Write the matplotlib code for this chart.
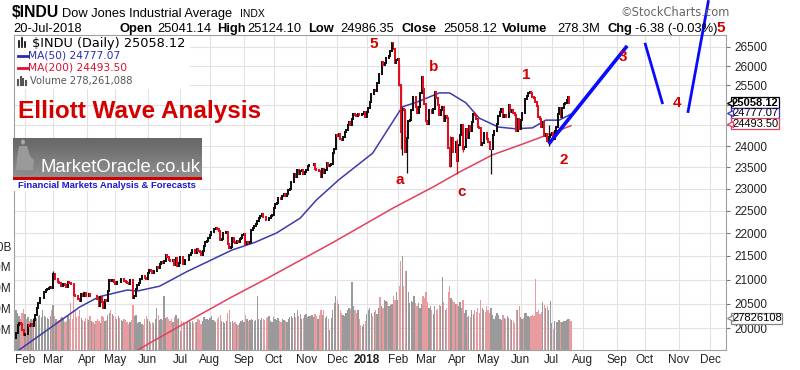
#!/usr/bin/env python3

import matplotlib
matplotlib.use('Agg')
import matplotlib.pyplot as plt
import matplotlib.transforms as mtransforms
from matplotlib.lines import Line2D
from matplotlib.patches import Rectangle, Polygon, Ellipse
from matplotlib.ticker import NullLocator
import numpy as np
import pandas as pd

plt.rcParams['font.family'] = ['Liberation Sans', 'DejaVu Sans']

# exchange closed days inside the window
market_holidays = ['2017-02-20', '2017-04-14', '2017-05-29', '2017-07-04', '2017-09-04',
                   '2017-11-23', '2017-12-25', '2018-01-01', '2018-01-15', '2018-02-19',
                   '2018-03-30', '2018-05-28', '2018-07-04', '2018-09-03', '2018-11-22',
                   '2018-12-05', '2018-12-25']
first_day = '2017-01-24'
last_day = '2018-12-31'
prev_close = 19799.0

# daily closes, one row per month (Jan 2017 .. Jul 2018)
closes = [
    19912, 20069, 20101, 20094, 19971, 19864,
    19891, 19885, 20071, 20052, 20090, 20054, 20172, 20269, 20413, 20504, 20611, 20620, 20624, 20743,
    20775, 20810, 20821, 20837, 20812,
    21115, 21002, 21005, 20954, 20924, 20855, 20858, 20903, 20881, 20837, 20950, 20934, 20914, 20906,
    20669, 20661, 20656, 20597, 20550, 20701, 20659, 20728, 20663,
    20650, 20690, 20648, 20663, 20656, 20658, 20651, 20591, 20453, 20637, 20523, 20404, 20578, 20548,
    20763, 20996, 20975, 20981, 20941,
    20913, 20950, 20957, 20951, 21007, 21013, 20975, 20943, 20919, 20897, 20982, 20980, 20607, 20663,
    20805, 20895, 20937, 21012, 21083, 21080, 21029, 21009,
    21144, 21206, 21184, 21137, 21174, 21182, 21272, 21236, 21329, 21375, 21360, 21384, 21529, 21468,
    21411, 21397, 21395, 21410, 21311, 21455, 21288, 21350,
    21479, 21478, 21321, 21414, 21409, 21409, 21532, 21554, 21638, 21630, 21575, 21641, 21612, 21580,
    21513, 21613, 21711, 21797, 21830, 21891,
    21964, 22016, 22026, 22093, 22118, 22085, 22049, 21844, 21858, 21993, 21998, 22025, 21750, 21675,
    21703, 21899, 21813, 21784, 21814, 21808, 21865, 21892, 21948,
    21988, 21754, 21808, 21785, 21798, 22057, 22119, 22158, 22204, 22268, 22331, 22370, 22412, 22359,
    22350, 22297, 22284, 22341, 22381, 22405,
    22557, 22642, 22662, 22775, 22774, 22761, 22831, 22873, 22841, 22872, 22957, 22997, 23158, 23163,
    23329, 23274, 23441, 23330, 23401, 23434, 23349, 23377,
    23436, 23516, 23539, 23548, 23557, 23563, 23462, 23422, 23440, 23409, 23272, 23458, 23358, 23430,
    23591, 23526, 23558, 23580, 23836, 23940, 24272,
    24231, 24290, 24180, 24140, 24211, 24329, 24386, 24504, 24585, 24509, 24652, 24792, 24754, 24726,
    24782, 24754, 24746, 24774, 24837, 24719,
    24824, 24922, 25075, 25295, 25283, 25386, 25370, 25574, 25803, 25792, 26116, 26017, 26072, 26214,
    26211, 26252, 26392, 26617, 26440, 26076, 26149,
    26187, 25521, 24346, 24913, 24893, 23860, 24191, 24601, 24640, 24893, 25201, 25219, 24965, 24798,
    24963, 25310, 25710, 25410, 25029,
    24609, 24538, 24875, 24885, 24801, 24895, 25336, 25179, 25008, 24759, 24874, 24947, 24611, 24728,
    24683, 23958, 23533, 24203, 23858, 23849, 24103,
    23644, 24034, 24265, 24505, 23933, 23979, 24408, 24190, 24483, 24361, 24574, 24786, 24748, 24665,
    24463, 24448, 24024, 24084, 24322, 24311, 24163,
    24100, 23925, 23930, 24263, 24357, 24361, 24543, 24740, 24831, 24900, 24706, 24769, 24714, 24715,
    25013, 24834, 24887, 24812, 24753, 24362, 24667, 24416,
    24635, 24814, 24799, 25146, 25241, 25317, 25322, 25320, 25201, 25175, 25090, 24987, 24700, 24657,
    24461, 24581, 24252, 24283, 24117, 24216, 24271,
    24307, 24174, 24357, 24456, 24776, 24920, 24700, 24925, 25019, 25064, 25120, 25199, 25064, 25058.12,
]

# daily volume, millions
volumes = [
    380, 360, 330, 300, 360, 390,
    350, 300, 320, 280, 300, 290, 310, 300, 310, 330, 340, 320, 380, 330, 320, 310, 300, 330, 380,
    430, 330, 300, 280, 290, 310, 320, 300, 270, 280, 330, 300, 450, 300, 520, 380, 320, 330, 380,
    310, 290, 280, 310,
    300, 290, 330, 280, 270, 250, 280, 300, 280, 260, 330, 320, 280, 290, 340, 360, 380, 350, 330,
    320, 300, 330, 310, 290, 280, 300, 290, 270, 250, 270, 290, 430, 330, 340, 260, 270, 270, 250,
    240, 300, 330,
    300, 280, 260, 270, 260, 300, 400, 340, 290, 300, 290, 520, 310, 320, 300, 280, 300, 270, 320,
    340, 300, 310,
    180, 280, 270, 260, 260, 270, 280, 270, 280, 260, 270, 270, 300, 290, 250, 280, 320, 300, 300, 290,
    310, 330, 290, 280, 270, 300, 320, 340, 280, 270, 260, 280, 360, 380, 270, 280, 260, 270, 250,
    240, 260, 280, 290,
    270, 340, 300, 280, 290, 300, 290, 280, 290, 520, 300, 290, 310, 300, 290, 310, 320, 330, 280, 270,
    320, 300, 290, 310, 280, 270, 300, 290, 280, 270, 300, 320, 330, 310, 360, 320, 380, 330, 350,
    300, 310, 340,
    350, 320, 330, 330, 340, 320, 350, 330, 300, 340, 380, 340, 380, 310, 330, 300, 190, 310, 380,
    450, 520,
    480, 440, 380, 360, 340, 330, 360, 380, 400, 390, 650, 420, 380, 360, 380, 300, 240, 230, 250, 280,
    350, 380, 400, 360, 330, 370, 380, 350, 400, 510, 420, 400, 480, 470, 460, 420, 430, 440, 520,
    480, 560,
    480, 620, 860, 900, 620, 760, 760, 560, 450, 470, 460, 520, 450, 420, 450, 400, 440, 520, 500,
    560, 460, 400, 420, 380, 350, 420, 380, 390, 430, 420, 700, 460, 380, 400, 560, 620, 500, 480,
    460, 440,
    440, 420, 460, 400, 480, 360, 380, 320, 330, 320, 380, 350, 380, 370, 400, 360, 480, 400, 380,
    370, 420,
    380, 360, 400, 340, 300, 330, 360, 340, 300, 290, 340, 310, 300, 330, 310, 300, 290, 280, 260,
    380, 380, 420,
    320, 300, 310, 360, 360, 330, 320, 330, 340, 330, 680, 370, 380, 350, 370, 460, 430, 400, 420,
    380, 470,
    260, 200, 280, 270, 270, 290, 270, 270, 280, 280, 290, 300, 300, 278.26,
]

# days with long shadows
wick_dates = ['2017-03-01', '2018-01-26', '2018-02-02', '2018-02-05', '2018-02-06', '2018-02-08',
              '2018-02-09', '2018-03-23', '2018-04-02', '2018-04-06', '2018-05-03', '2018-06-28']
wick_lows = [20960, 26425, 25490, 23923, 23778, 23849, 23360, 23509, 23344, 23850, 23344, 23997]
wick_highs = [21169, 26617, 26062, 25520, 24946, 24903, 24382, 24245, 24161, 24501, 23935, 24509]

ma50_dates = ['2017-01-24', '2017-03-27', '2017-04-13', '2017-05-11', '2017-05-22', '2017-06-13',
              '2017-07-10', '2017-08-22', '2017-09-13', '2017-10-04', '2017-10-26', '2017-11-10',
              '2017-12-04', '2018-01-08', '2018-02-06', '2018-02-21', '2018-03-14', '2018-03-23',
              '2018-04-10', '2018-04-23', '2018-05-10', '2018-05-25', '2018-06-13', '2018-06-26',
              '2018-07-10', '2018-07-20']
ma50_values = [19530, 20430, 20640, 20780, 20760, 20860, 21160, 21630, 21790, 22000, 22330, 22740,
               23200, 23830, 24960, 25080, 25310, 25310, 25060, 24680, 24460, 24420, 24440, 24630,
               24630, 24777.07]

ma200_dates = ['2017-05-17', '2017-07-21', '2017-08-22', '2017-09-26', '2017-11-28', '2018-01-29',
               '2018-03-08', '2018-04-04', '2018-05-04', '2018-06-01', '2018-06-27', '2018-07-20']
ma200_values = [19520, 20270, 20640, 21030, 21790, 22560, 23040, 23390, 23790, 24030, 24270, 24493.50]

wave_labels = ['5', 'a', 'b', 'c', '1', '2', '3', '4', '5']
wave_label_dates = ['2018-01-09', '2018-02-02', '2018-03-08', '2018-04-05', '2018-06-07',
                    '2018-07-13', '2018-09-10', '2018-10-31', '2018-12-13']
wave_label_prices = [26580, 23200, 25975, 22920, 25770, 23670, 26240, 25060, 27010]

projection_dates = [('2018-06-28', '2018-09-13'), ('2018-10-01', '2018-10-17'), ('2018-11-09', '2018-11-30')]
projection_prices = [(24050, 26530), (26610, 25030), (24810, 27770)]

month_labels = ['Feb', 'Mar', 'Apr', 'May', 'Jun', 'Jul', 'Aug', 'Sep', 'Oct', 'Nov', 'Dec', '2018',
                'Feb', 'Mar', 'Apr', 'May', 'Jun', 'Jul', 'Aug', 'Sep', 'Oct', 'Nov', 'Dec']
price_ticks = list(range(20000, 26501, 500))
volume_ticks = [200, 400, 600, 800, 1000]
volume_tick_labels = ['200M', '400M', '600M', '800M', '1.0B']

W, H = 800, 370
RED = '#d40000'


def fx(px):
    return px / W


def fy(py):
    return 1 - py / H


days = pd.bdate_range(first_day, last_day, freq='C', holidays=market_holidays)
assert len(closes) == len(volumes)


def pos(d):
    return days.get_loc(pd.Timestamp(d))


n = len(closes)
x = np.arange(n)
c = np.array(closes, float)
o = np.r_[prev_close, c[:-1]]
up = c >= o
candle_col = np.where(up, '#111111', '#e0101e')
vol_col = np.where(up, '#9a9a9a', '#e99ca0')

fig = plt.figure(figsize=(W / 100, H / 100), dpi=100)
ax = fig.add_axes([fx(14), 1 - 350 / H, fx(726) - fx(14), (350 - 35) / H])
ax.set_yscale('log')
ax.set_xlim(-1.43, 479.8)
ax.set_ylim(19570, 26820)

# volume bars share the price panel, scaled in axes fraction
vol_top = 3029.0
vtrans = mtransforms.blended_transform_factory(ax.transData, ax.transAxes)
ax.bar(x, np.array(volumes) / vol_top, width=0.85, bottom=0, color=vol_col,
       transform=vtrans, zorder=1, linewidth=0)

ax.plot([pos(d) for d in ma200_dates], ma200_values, color='#e2405c', lw=1.1, zorder=2)
ax.plot([pos(d) for d in ma50_dates], ma50_values, color='#3b3bab', lw=1.1, zorder=2)

bodies = ax.vlines(x, np.minimum(o, c), np.maximum(o, c), colors=candle_col, lw=1.45, zorder=3)
bodies.set_capstyle('projecting')
wx = [pos(d) for d in wick_dates]
ax.vlines(wx, wick_lows, wick_highs, colors=[candle_col[i] for i in wx], lw=0.9, zorder=3)

# projected wave legs
for (d0, d1), (p0, p1), lw in zip(projection_dates, projection_prices, [2.6, 2.0, 2.0]):
    ax.plot([pos(d0), pos(d1)], [p0, p1], color='#0a0aff', lw=lw, zorder=4,
            solid_capstyle='butt', clip_on=False)

for lab, d, p in zip(wave_labels, wave_label_dates, wave_label_prices):
    ax.text(pos(d), p, lab, color=RED, fontsize=11, fontweight='bold', ha='center', va='center',
            zorder=5, clip_on=False)

# ticks and grid
month_pos = pd.Series(np.arange(len(days)), index=days).groupby(days.to_period('M')).first().values[1:24]
ax.set_xticks(month_pos)
ax.set_xticklabels(month_labels)
for lab, t in zip(month_labels, ax.get_xticklabels()):
    if lab == '2018':
        t.set_fontweight('bold')
ax.yaxis.set_minor_locator(NullLocator())
ax.set_yticks(price_ticks)
ax.set_yticklabels([str(v) for v in price_ticks])
ax.grid(True, color='#e2e2e2', lw=0.8, zorder=0)
ax.set_axisbelow(True)
for s in ax.spines.values():
    s.set_color('#a0a0a0')
    s.set_linewidth(0.8)

# volume scale on the left (twinx flips the price axis, so set sides afterwards)
ax_vol = ax.twinx()
ax_vol.set_ylim(0, vol_top)
ax_vol.set_yticks(volume_ticks)
ax_vol.set_yticklabels(volume_tick_labels)
ax_vol.yaxis.tick_left()
ax_vol.tick_params(length=0, pad=2, labelsize=8.5, labelcolor='#222222')
ax_vol.patch.set_visible(False)
for s in ax_vol.spines.values():
    s.set_visible(False)

ax.yaxis.tick_right()
ax.tick_params(axis='y', which='both', left=False, labelleft=False, right=True, labelright=True,
               length=3, pad=3, labelsize=8.5, colors='#777777', labelcolor='#222222')
ax.tick_params(axis='x', length=0, pad=3, labelsize=8.5, labelcolor='#222222')

# value tags on the right edge (dy nudges them apart like the original)
ptrans = mtransforms.blended_transform_factory(ax.transAxes, ax.transData)
tags = [(25058.12, '25058.12', 'black', 'bold', ptrans, 0),
        (24777.07, '24777.07', '#3333bb', 'normal', ptrans, 1),
        (24493.50, '24493.50', '#e2405c', 'normal', ptrans, 2),
        (278.26 / vol_top, '27826108', '#888888', 'normal', ax.transAxes, 3)]
for yv, txt, col, fw, tr, dy in tags:
    tt = mtransforms.offset_copy(tr, fig=fig, x=6, y=dy, units='dots')
    ax.text(1.0, yv, txt, transform=tt, ha='left', va='center', fontsize=8, fontweight=fw,
            color='black', clip_on=False, zorder=6,
            bbox=dict(boxstyle='square,pad=0.05', fc='white', ec=col, lw=0.9))
    ax.plot([1.0], [yv], marker='<', ms=5, mfc='white', mec=col, mew=0.9, clip_on=False, zorder=7,
            transform=mtransforms.offset_copy(tr, fig=fig, x=4, y=dy, units='dots'))

# header
fig.text(fx(12), fy(17), '$INDU', fontsize=11.3, fontweight='bold', va='baseline')
fig.text(fx(62), fy(17), 'Dow Jones Industrial Average', fontsize=9.3, va='baseline')
fig.text(fx(240), fy(17), 'INDX', fontsize=7.5, va='baseline')
fig.text(fx(620), fy(16), '\u00a9StockCharts.com', fontsize=8.3, color='#666666', va='baseline',
         family=['DejaVu Sans'])
header = [(13, '20-Jul-2018', 'normal'), (120, 'Open', 'bold'), (157, '25041.14', 'normal'),
          (217, 'High', 'bold'), (247, '25124.10', 'normal'), (308, 'Low', 'bold'),
          (340, '24986.35', 'normal'), (402, 'Close', 'bold'), (443, '25058.12', 'normal'),
          (502, 'Volume', 'bold'), (557, '278.3M', 'normal'), (607, 'Chg', 'bold'),
          (635, '-6.38 (-0.03%)', 'normal')]
for px, txt, fw in header:
    fig.text(fx(px), fy(32), txt, fontsize=9.3, fontweight=fw, va='baseline')

# legend block
fig.add_artist(Rectangle((fx(15), fy(89)), fx(190) - fx(15), (89 - 36) / H,
                         transform=fig.transFigure, fc='white', ec='none', zorder=1))
for k, hgt in enumerate([6, 9, 5]):
    bx = 19 + k * 3
    fig.add_artist(Line2D([fx(bx), fx(bx)], [fy(47), fy(47 - hgt)], color='black', lw=1.2, zorder=2))
fig.text(fx(32), fy(43), '$INDU (Daily) 25058.12', fontsize=9.3, va='center', family=['DejaVu Sans'])
fig.add_artist(Line2D([fx(18), fx(28)], [fy(56), fy(56)], color='#2b2bb0', lw=2, zorder=2))
fig.text(fx(28), fy(56), 'MA(50) 24777.07', fontsize=7.7, va='center', color='#2b2bb0',
         family=['DejaVu Sans'])
fig.add_artist(Line2D([fx(18), fx(28)], [fy(68), fy(68)], color='#dd1133', lw=2, zorder=2))
fig.text(fx(28), fy(68), 'MA(200) 24493.50', fontsize=7.7, va='center', color='#dd1133',
         family=['DejaVu Sans'])
for k, hgt in enumerate([5, 8, 6, 4]):
    bx = 18 + k * 2.5
    fig.add_artist(Line2D([fx(bx), fx(bx)], [fy(85), fy(85 - hgt)], color='#555555', lw=1.5, zorder=2))
fig.text(fx(30), fy(81), 'Volume 278,261,088', fontsize=7.1, va='center', color='#555555',
         family=['DejaVu Sans'])

fig.text(fx(18), fy(118), 'Elliott Wave Analysis', fontsize=17.5, fontweight='bold', color=RED,
         va='baseline')

# MarketOracle banner
logo = fig.add_axes([fx(13), fy(177), fx(202) - fx(13), (177 - 138) / H])
grad = np.linspace(0, 1, 40)[:, None] * np.ones((1, 10))
logo.imshow(grad, aspect='auto', cmap='Greys_r', vmin=-2.2, vmax=4.5,
            extent=[13, 202, 177, 138])
logo.add_patch(Ellipse((23, 142), 4, 5, fc='#a8a8a8', ec='none'))
logo.add_patch(Polygon([(19, 146), (27, 146), (30, 156), (34, 160), (33, 170), (16, 170), (17, 158)],
                       fc='#9a9a9a', ec='none'))
logo.add_patch(Rectangle((16, 170), 19, 4, fc='#8a8a8a', ec='none'))
logo.set_xlim(13, 202)
logo.set_ylim(177, 138)
logo.axis('off')
fig.add_artist(Rectangle((fx(13), fy(180)), fx(202) - fx(13), 3 / H, transform=fig.transFigure,
                         fc='#d00000', ec='none', zorder=1))
fig.add_artist(Rectangle((fx(13), fy(191)), fx(200) - fx(13), 11 / H, transform=fig.transFigure,
                         fc='white', ec='none', zorder=1))
fig.text(fx(40), fy(172), 'MarketOracle.co.uk', fontsize=13.3, color='white', va='baseline')
fig.text(fx(18), fy(188), 'Financial Markets Analysis & Forecasts', fontsize=6.8, fontweight='bold',
         color='#1a1ad0', va='baseline')

fig.savefig('out.png', dpi=100)
